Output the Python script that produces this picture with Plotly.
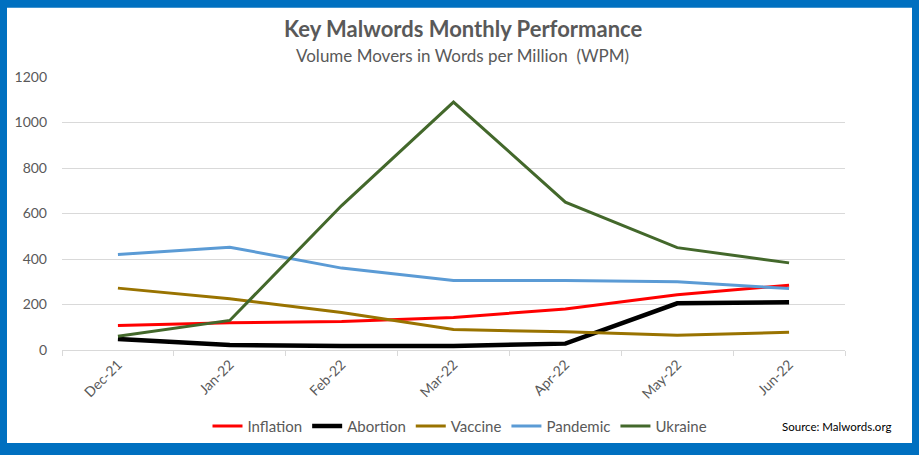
import plotly.graph_objects as go

months = ["Dec-21", "Jan-22", "Feb-22", "Mar-22", "Apr-22", "May-22", "Jun-22"]
inflation = [108, 120, 125, 143, 180, 243, 285]
abortion = [48, 22, 18, 18, 28, 205, 210]
vaccine = [272, 225, 165, 90, 80, 65, 78]
pandemic = [420, 452, 360, 305, 305, 300, 270]
ukraine = [60, 130, 635, 1090, 650, 450, 383]

series = [
    ("Inflation", inflation, "#FF0000", 3),
    ("Abortion", abortion, "#000000", 4.5),
    ("Vaccine", vaccine, "#997300", 3),
    ("Pandemic", pandemic, "#5B9BD5", 3),
    ("Ukraine", ukraine, "#43682B", 3),
]

FONT = "Lato"
GRAY = "#595959"

fig = go.Figure()
for name, vals, color, w in series:
    fig.add_trace(go.Scatter(x=months, y=vals, name=name, mode="lines",
                             line=dict(color=color, width=w)))

W, H = 919, 455
L, R, T, B = 62, 74, 77, 102
pw, ph = W - L - R, H - T - B

def px_x(p):
    return (p - L) / pw

def px_y(p):
    return (H - B - p) / ph

fig.add_shape(type="rect", xref="paper", yref="paper",
              x0=px_x(7), x1=px_x(912), y0=px_y(447), y1=px_y(7),
              fillcolor="white", line=dict(width=0), layer="below")

fig.add_annotation(text="<b>Key Malwords Monthly Performance</b>", xref="paper", yref="paper",
                   x=px_x(463), y=px_y(28), showarrow=False,
                   font=dict(family=FONT, size=22, color=GRAY), xanchor="center", yanchor="middle")
fig.add_annotation(text="Volume Movers in Words per Million  (WPM)", xref="paper", yref="paper",
                   x=px_x(463), y=px_y(55), showarrow=False,
                   font=dict(family=FONT, size=17, color=GRAY), xanchor="center", yanchor="middle")
fig.add_annotation(text="Source: Malwords.org", xref="paper", yref="paper",
                   x=px_x(893), y=px_y(430), showarrow=False, xanchor="right", yanchor="middle",
                   font=dict(family=FONT, size=11.5, color="#000000"))

fig.update_layout(
    width=W, height=H,
    margin=dict(l=L, r=R, t=T, b=B, pad=0),
    paper_bgcolor="#0070C0",
    plot_bgcolor="white",
    font=dict(family=FONT, color=GRAY, size=14),
    showlegend=True,
    legend=dict(orientation="h", x=px_x(460), xanchor="center", y=px_y(430), yanchor="middle",
                font=dict(family=FONT, size=15, color=GRAY), itemwidth=30,
                bgcolor="rgba(0,0,0,0)", tracegroupgap=0),
    xaxis=dict(type="category", range=[-0.5, 6.5], tickangle=-45, showgrid=False,
               showline=True, linecolor="#D9D9D9", linewidth=1,
               ticks="outside", tickson="boundaries", ticklen=5, tickcolor="#D9D9D9",
               tickfont=dict(family=FONT, size=14, color=GRAY)),
    yaxis=dict(range=[0, 1200], dtick=200, showgrid=True, gridcolor="#D9D9D9", gridwidth=1,
               zeroline=False, showline=False, ticks="", ticklabelstandoff=14,
               tickfont=dict(family=FONT, size=14, color=GRAY)),
)

fig.write_html("out.html", config={"displayModeBar": False},
               post_script="document.body.style.margin='0';document.body.style.overflow='hidden';")
